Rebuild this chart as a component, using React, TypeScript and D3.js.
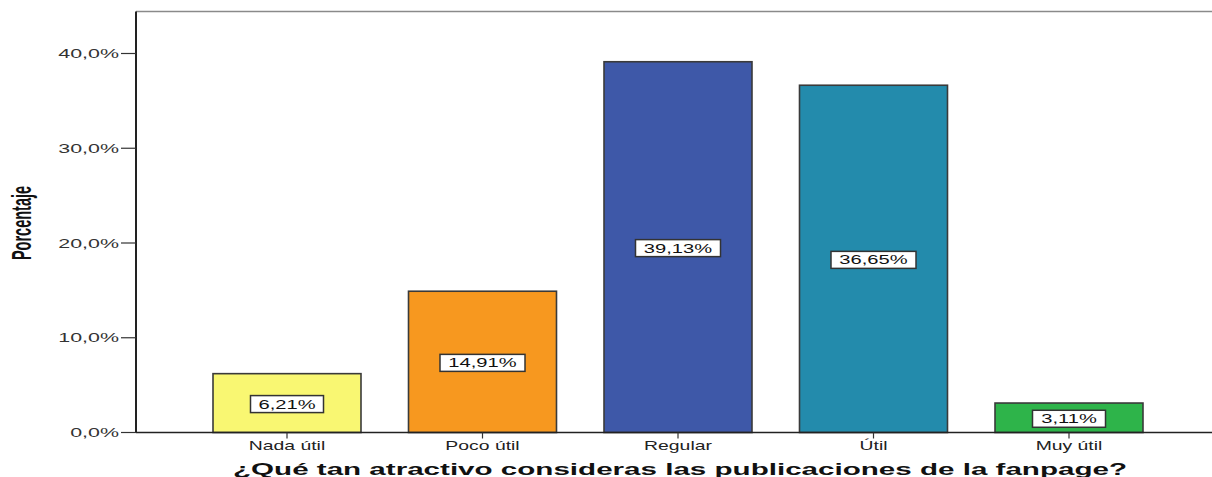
import React from "react";
import * as d3 from "d3";

const categories = ["Nada útil", "Poco útil", "Regular", "Útil", "Muy útil"];
const percentages = [6.21, 14.91, 39.13, 36.65, 3.11];
const barColors = ["#F9F772", "#F7981F", "#3E58A8", "#238BAC", "#2EB44A"];
const yTicks = [0, 10, 20, 30, 40];
const valueLabels = ["6,21%", "14,91%", "39,13%", "36,65%", "3,11%"];
const yTitle = "Porcentaje";
const xTitle = "¿Qué tan atractivo consideras las publicaciones de la fanpage?";

const W = 1212;
const H = 477;
const STRETCH = 1.55;
const FONT = "Arial, 'Liberation Sans', Helvetica, sans-serif";

export default function App() {
  const axisX = 136;
  const frameTop = 11.5;
  const y = d3.scaleLinear().domain([0, 40]).range([432.5, 53.5]);
  const x = d3
    .scaleBand<string>()
    .domain(categories)
    .range([189.25, 1166.75])
    .paddingInner(0.243)
    .paddingOuter(0.1215);
  const fmtTick = (v: number) => `${v.toFixed(1).replace(".", ",")}%`;

  return (
    <svg
      width={W}
      height={H}
      style={{ position: "absolute", left: 0, top: 0, background: "#fff" }}
      fontFamily={FONT}
    >
      {/* frame top line */}
      <line x1={axisX} x2={W} y1={frameTop} y2={frameTop} stroke="#8a8a8a" strokeWidth={1.5} />

      {/* bars */}
      {categories.map((c, i) => {
        const x0 = x(c)!;
        const bw = x.bandwidth();
        const yTop = y(percentages[i]);
        return (
          <rect
            key={c}
            x={x0}
            y={yTop}
            width={bw}
            height={y(0) - yTop}
            fill={barColors[i]}
            stroke="#3a3a3a"
            strokeWidth={1.6}
          />
        );
      })}

      {/* value labels */}
      {categories.map((c, i) => {
        const cx = x(c)! + x.bandwidth() / 2;
        const cy = (y(percentages[i]) + y(0)) / 2 + 1;
        const label = valueLabels[i];
        const boxW = label.length * 12 + 13;
        return (
          <g key={`lbl-${c}`}>
            <rect
              x={cx - boxW / 2}
              y={cy - 8.5}
              width={boxW}
              height={17}
              fill="#fff"
              stroke="#333"
              strokeWidth={1.5}
            />
            <text
              transform={`translate(${cx},${cy + 4.6}) scale(${STRETCH},1)`}
              textAnchor="middle"
              fontSize={13}
              fill="#111"
            >
              {label}
            </text>
          </g>
        );
      })}

      {/* y axis */}
      <line x1={axisX} x2={axisX} y1={frameTop} y2={y(0)} stroke="#222" strokeWidth={2} />
      {yTicks.map((t) => (
        <g key={t}>
          <line x1={121} x2={axisX} y1={y(t)} y2={y(t)} stroke="#333" strokeWidth={1.2} />
          <text
            transform={`translate(119,${y(t) + 4.5}) scale(1.65,1)`}
            textAnchor="end"
            fontSize={13}
            fill="#333"
          >
            {fmtTick(t)}
          </text>
        </g>
      ))}

      {/* x axis */}
      <line x1={axisX} x2={W} y1={y(0)} y2={y(0)} stroke="#222" strokeWidth={1.6} />
      {categories.map((c) => {
        const cx = x(c)! + x.bandwidth() / 2;
        return (
          <g key={`xt-${c}`}>
            <line x1={cx} x2={cx} y1={y(0)} y2={y(0) + 6} stroke="#333" strokeWidth={1.2} />
            <text
              transform={`translate(${cx},450) scale(${STRETCH},1)`}
              textAnchor="middle"
              fontSize={12.5}
              fill="#222"
            >
              {c}
            </text>
          </g>
        );
      })}

      {/* axis titles */}
      <text
        x={680}
        y={474.5}
        textAnchor="middle"
        fontSize={16.5}
        fontWeight="bold"
        fill="#111"
        textLength={894}
        lengthAdjust="spacingAndGlyphs"
      >
        {xTitle}
      </text>
      <text
        transform={`translate(31,223) scale(1.85,1) rotate(-90)`}
        textAnchor="middle"
        fontSize={14.5}
        fontWeight="bold"
        fill="#111"
      >
        {yTitle}
      </text>
    </svg>
  );
}
